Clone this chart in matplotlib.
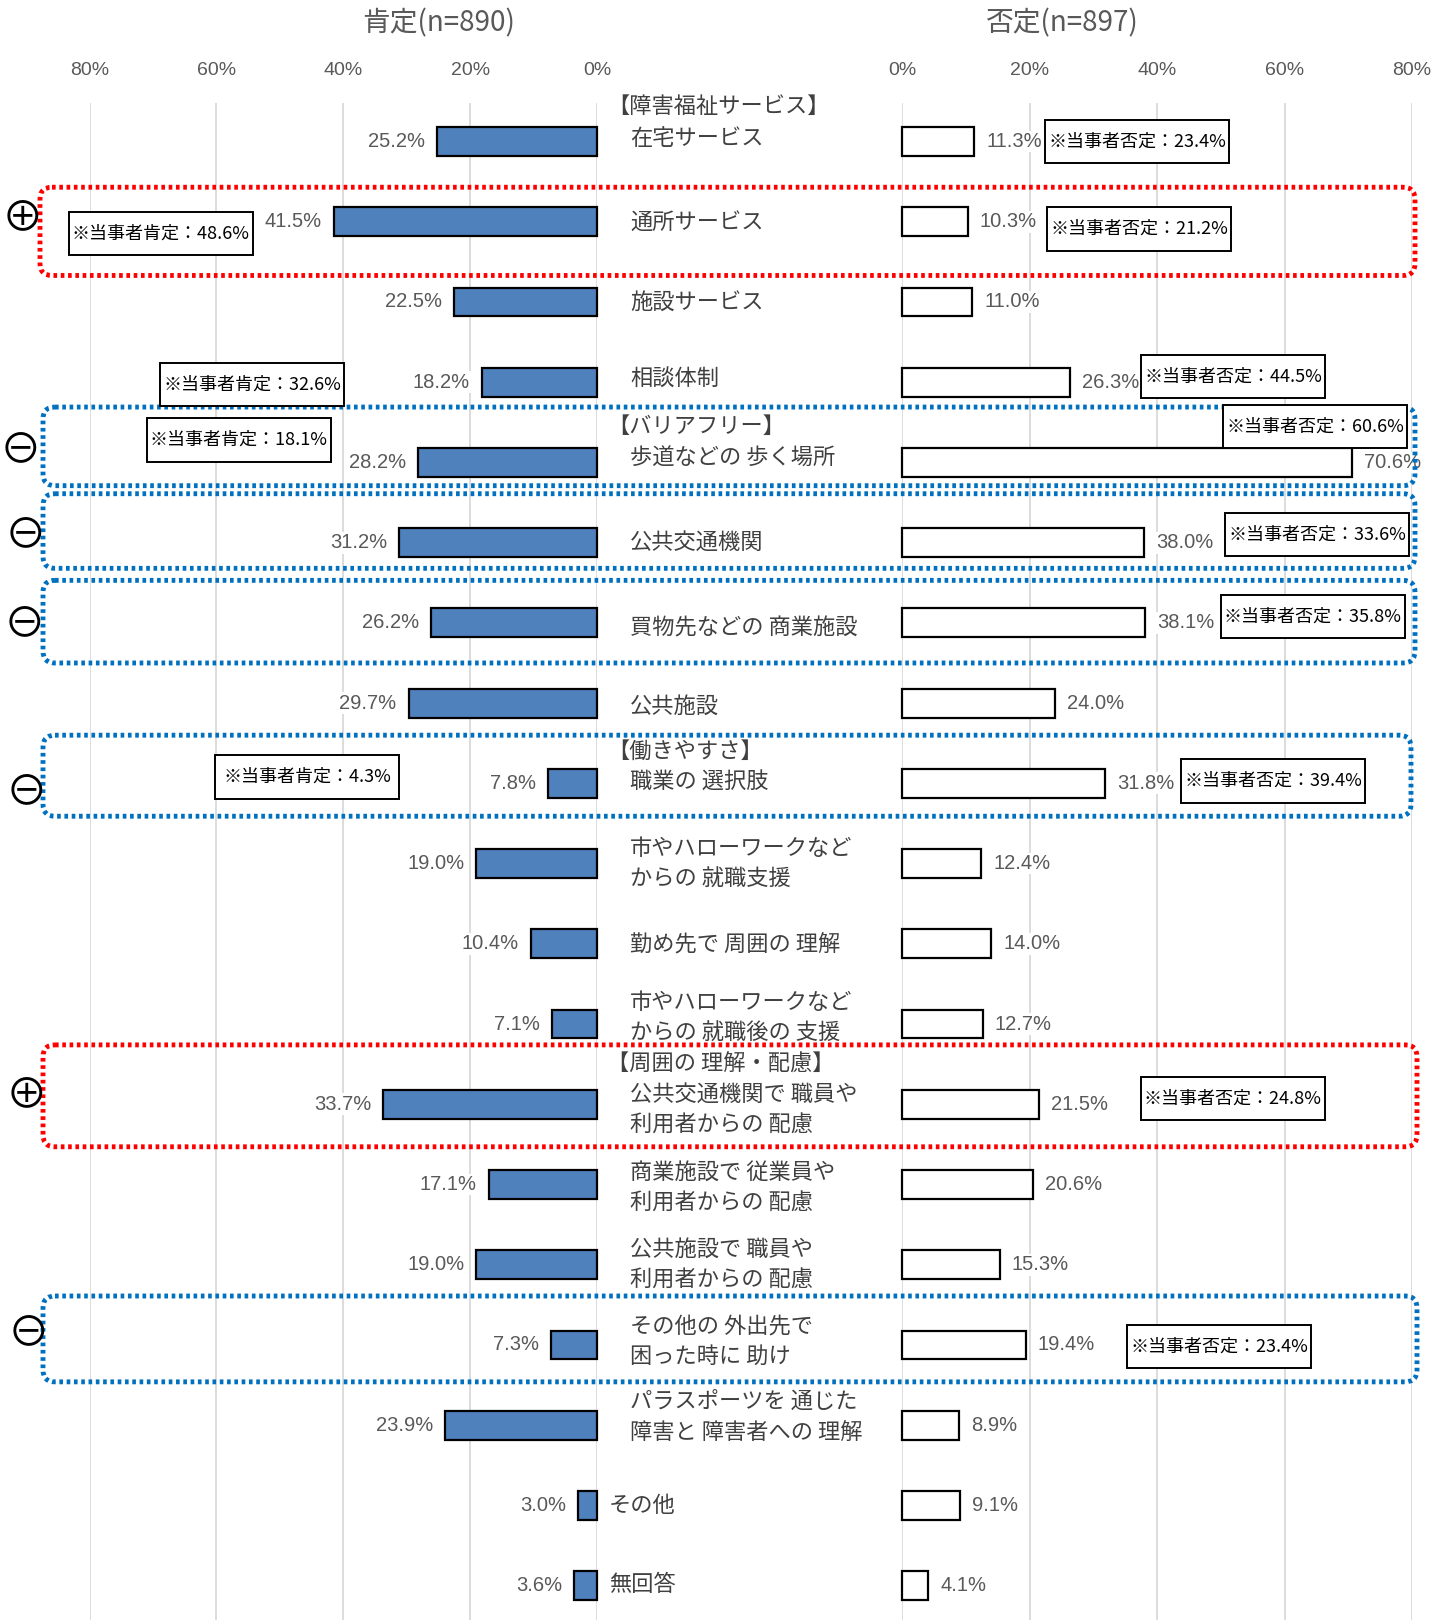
import matplotlib
matplotlib.use('Agg')
import matplotlib.pyplot as plt
from matplotlib import font_manager
from matplotlib.patches import FancyBboxPatch, Rectangle

jp = 'Noto Sans CJK JP'
names = {f.name for f in font_manager.fontManager.ttflist}
num_font = 'Liberation Sans Narrow' if 'Liberation Sans Narrow' in names else 'Liberation Sans'
plt.rcParams['font.family'] = [jp, 'DejaVu Sans']

# data
items = [
    ['在宅サービス'],
    ['通所サービス'],
    ['施設サービス'],
    ['相談体制'],
    ['歩道などの 歩く場所'],
    ['公共交通機関'],
    ['買物先などの 商業施設'],
    ['公共施設'],
    ['職業の 選択肢'],
    ['市やハローワークなど', 'からの 就職支援'],
    ['勤め先で 周囲の 理解'],
    ['市やハローワークなど', 'からの 就職後の 支援'],
    ['公共交通機関で 職員や', '利用者からの 配慮'],
    ['商業施設で 従業員や', '利用者からの 配慮'],
    ['公共施設で 職員や', '利用者からの 配慮'],
    ['その他の 外出先で', '困った時に 助け'],
    ['パラスポーツを 通じた', '障害と 障害者への 理解'],
    ['その他'],
    ['無回答'],
]
headers = {0: '【障害福祉サービス】', 4: '【バリアフリー】', 8: '【働きやすさ】', 12: '【周囲の 理解・配慮】'}
pos = [25.2, 41.5, 22.5, 18.2, 28.2, 31.2, 26.2, 29.7, 7.8, 19.0, 10.4, 7.1, 33.7, 17.1, 19.0, 7.3, 23.9, 3.0, 3.6]
neg = [11.3, 10.3, 11.0, 26.3, 70.6, 38.0, 38.1, 24.0, 31.8, 12.4, 14.0, 12.7, 21.5, 20.6, 15.3, 19.4, 8.9, 9.1, 4.1]
n_pos, n_neg = 890, 897

# 当事者 values shown in boxes
notes_pos = {1: 48.6, 3: 32.6, 4: 18.1, 8: 4.3}
notes_neg = {0: 23.4, 1: 21.2, 3: 44.5, 4: 60.6, 5: 33.6, 6: 35.8, 8: 39.4, 12: 24.8, 15: 23.4}
plus_groups = [1, 12]
minus_groups = [4, 5, 6, 8, 15]

# layout (pixels)
W, H = 1446, 1620
y0, dy = 141.5, 80.23


def row_of(py):
    return (py - y0) / dy


fig = plt.figure(figsize=(W / 100, H / 100), dpi=100)
top = 103
axL = fig.add_axes([89.5 / W, 0, (597 - 89.5) / W, (H - top) / H])
axR = fig.add_axes([902 / W, 0, (1412 - 902) / W, (H - top) / H])

rows = list(range(len(pos)))
axL.barh(rows, pos, height=0.36, color='#4f81bd', edgecolor='black', linewidth=1.6, clip_on=False)
axR.barh(rows, neg, height=0.36, color='white', edgecolor='black', linewidth=1.6, clip_on=False)
axL.set_xlim(80, 0)
axR.set_xlim(0, 80)

for ax in (axL, axR):
    ax.set_ylim(row_of(H), row_of(top))
    ax.set_xticks([0, 20, 40, 60, 80])
    ax.set_xticklabels([f'{t}%' for t in [0, 20, 40, 60, 80]], family=num_font)
    ax.xaxis.tick_top()
    ax.tick_params(axis='x', length=0, pad=17, labelsize=14, labelcolor='#595959')
    ax.set_yticks([])
    ax.grid(axis='x', color='#d9d9d9', linewidth=1.3)
    ax.set_axisbelow(True)
    for s in ax.spines.values():
        s.set_visible(False)
    ax.patch.set_alpha(0)

for i, v in enumerate(pos):
    axL.annotate(f'{v:.1f}%', (v, i), xytext=(-12, 0), textcoords='offset pixels',
                 ha='right', va='center', fontsize=14.5, color='#595959', family=num_font,
                 bbox=dict(fc='white', ec='none', pad=1))
for i, v in enumerate(neg):
    axR.annotate(f'{v:.1f}%', (v, i), xytext=(12, 0), textcoords='offset pixels',
                 ha='left', va='center', fontsize=14.5, color='#595959', family=num_font,
                 bbox=dict(fc='white', ec='none', pad=1))

# overlay for labels, group frames, notes
ov = fig.add_axes([0, 0, 1, 1], zorder=5)
ov.set_xlim(0, W)
ov.set_ylim(row_of(H), row_of(0))
ov.axis('off')
ov.patch.set_alpha(0)

ov.text(439, row_of(23), f'肯定(n={n_pos})', ha='center', va='center', fontsize=20, color='#595959')
ov.text(1062, row_of(23), f'否定(n={n_neg})', ha='center', va='center', fontsize=20, color='#595959')

label_dy = [-0.04, 0.01, 0, -0.04, -0.05, 0, 0.06, 0.04, -0.01, -0.19, 0, -0.27,
            -0.12, -0.15, -0.19, -0.24, -0.30, 0, -0.02]
header_dy = {0: -0.44, 4: -0.45, 8: -0.40, 12: -0.51}
for i, lines in enumerate(items):
    x = 609 if i >= 17 else 630
    for k, line in enumerate(lines):
        ov.text(x, i + label_dy[i] + k * 0.385, line, ha='left', va='center',
                fontsize=16, color='#404040')
for i, h in headers.items():
    ov.text(607, i + header_dy[i], h, ha='left', va='center', fontsize=16, color='#404040')

# dotted group frames: (row, top offset, bottom offset, x0, x1)
frames = {1: (-0.43, 0.67, 40, 1415), 4: (-0.69, 0.29, 43, 1415), 5: (-0.61, 0.32, 43, 1415),
          6: (-0.53, 0.50, 43, 1415), 8: (-0.60, 0.41, 43, 1411), 12: (-0.74, 0.53, 43, 1417),
          15: (-0.61, 0.46, 43, 1417)}
sym_pos = {1: (22.7, -0.04), 4: (20.7, -0.15), 5: (25.8, -0.09), 6: (24.8, 0.02),
           8: (26.9, 0.12), 12: (26.9, -0.11), 15: (28.9, -0.14)}
for i, (t, b, x0, x1) in frames.items():
    col = '#ff0000' if i in plus_groups else '#0070c0'
    ov.add_patch(FancyBboxPatch((x0, i + t), x1 - x0, b - t,
                                boxstyle='round,pad=0,rounding_size=12', mutation_aspect=1 / dy,
                                fill=False, ec=col, lw=3.5, ls=(0, (0.75, 0.75)), zorder=2))
    sx, sy = sym_pos[i]
    ov.text(sx, i + sy, '⊕' if i in plus_groups else '⊖', family=[jp, 'DejaVu Sans'],
            ha='center', va='center', fontsize=30, color='black')

# note boxes: (x_left px, row offset)
note_pos_xy = {1: (69, 0.15), 3: (160, 0.03), 4: (147, -0.28), 8: (215, -0.08)}
note_neg_xy = {0: (1045, 0.0), 1: (1047, 0.09), 3: (1141, -0.07), 4: (1223, -0.45),
               5: (1225, -0.10), 6: (1221, -0.08), 8: (1181, -0.03), 12: (1141, -0.07),
               15: (1127, 0.02)}
bw, bh = 184, 43.4 / dy


def note(x, y, txt):
    ov.add_patch(Rectangle((x, y - bh / 2), bw, bh, fc='white', ec='black', lw=1.4, zorder=4))
    ov.text(x + bw / 2, y, txt, ha='center', va='center', fontsize=13, color='black', zorder=5)


for i, v in notes_pos.items():
    x, o = note_pos_xy[i]
    note(x, i + o, f'※当事者肯定：{v:.1f}%')
for i, v in notes_neg.items():
    x, o = note_neg_xy[i]
    note(x, i + o, f'※当事者否定：{v:.1f}%')

fig.savefig('out.png', dpi=100)
